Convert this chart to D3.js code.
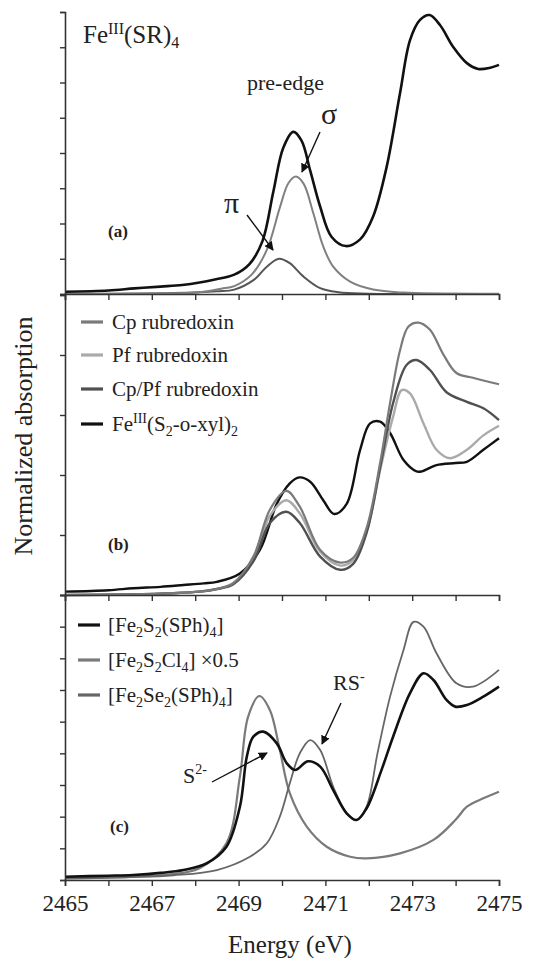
<!DOCTYPE html>
<html>
<head>
<meta charset="utf-8">
<script src="https://cdn.jsdelivr.net/npm/d3@7"></script>
<style>
  body { margin: 0; background: #fff; }
  svg text, svg tspan { font-family: "Liberation Serif", "Tinos", "DejaVu Serif", "Noto Serif", serif !important; fill: #222; }
</style>
</head>
<body>
<script>
// Energy axis ticks (eV)
const energyTicks = [2465, 2466, 2467, 2468, 2469, 2470, 2471, 2472, 2473, 2474, 2475];
const energyLabels = [2465, 2467, 2469, 2471, 2473, 2475];

// Panel (a): Fe(III)(SR)4, total and pre-edge components
const feSR4 = [[2465,0.013],[2466,0.02],[2466.6,0.032],[2467.2,0.042],[2467.7,0.051],[2468.1,0.065],[2468.4,0.08],[2468.9,0.11],[2469.25,0.17],[2469.55,0.3],[2469.8,0.58],[2470.03,0.83],[2470.26,0.92],[2470.45,0.87],[2470.65,0.7],[2470.88,0.495],[2471.14,0.325],[2471.47,0.272],[2471.8,0.31],[2472.1,0.44],[2472.41,0.72],[2472.72,1.14],[2472.95,1.44],[2473.18,1.555],[2473.4,1.583],[2473.64,1.526],[2473.95,1.4],[2474.26,1.31],[2474.52,1.277],[2474.8,1.284],[2475,1.3]];
const sigmaPeak = [[2465,0],[2467,0.003],[2468.1,0.01],[2468.6,0.03],[2468.9,0.045],[2469.3,0.11],[2469.65,0.25],[2469.95,0.49],[2470.15,0.63],[2470.32,0.666],[2470.5,0.625],[2470.72,0.46],[2470.95,0.27],[2471.18,0.155],[2471.57,0.07],[2472.1,0.025],[2472.8,0.008],[2475,0.002]];
const piPeak = [[2465,0],[2467.5,0.005],[2468.5,0.015],[2468.9,0.025],[2469.35,0.08],[2469.65,0.155],[2469.93,0.2],[2470.18,0.175],[2470.49,0.1],[2470.88,0.033],[2471.3,0.01],[2472,0.002],[2475,0]];

// Panel (b): rubredoxins and model complex
const cpRd = [[2465,0],[2466.5,0.005],[2467.5,0.015],[2468.1,0.028],[2468.5,0.05],[2468.88,0.1],[2469.34,0.32],[2469.72,0.71],[2470.1,0.867],[2470.41,0.736],[2470.88,0.375],[2471.34,0.27],[2471.64,0.31],[2471.95,0.56],[2472.26,1.1],[2472.49,1.6],[2472.72,2.04],[2472.91,2.236],[2473.14,2.27],[2473.41,2.21],[2473.71,2.01],[2474.02,1.85],[2474.4,1.81],[2475,1.756]];
const pfRd = [[2465,0],[2466.5,0.005],[2467.5,0.015],[2468.1,0.028],[2468.5,0.05],[2468.88,0.095],[2469.34,0.3],[2469.72,0.66],[2470.1,0.79],[2470.41,0.68],[2470.88,0.36],[2471.34,0.245],[2471.64,0.29],[2471.95,0.53],[2472.26,1.04],[2472.56,1.486],[2472.76,1.708],[2472.95,1.68],[2473.26,1.43],[2473.56,1.21],[2473.87,1.14],[2474.26,1.21],[2474.64,1.33],[2475,1.41]];
const cpPfRd = [[2465,0],[2466.5,0.005],[2467.5,0.015],[2468.1,0.028],[2468.5,0.05],[2468.88,0.09],[2469.34,0.28],[2469.72,0.6],[2470.1,0.694],[2470.41,0.6],[2470.88,0.32],[2471.34,0.21],[2471.64,0.26],[2471.95,0.52],[2472.26,1.06],[2472.56,1.6],[2472.87,1.917],[2473.1,1.958],[2473.41,1.875],[2473.79,1.69],[2474.26,1.61],[2474.64,1.556],[2475,1.458]];
const feXyl = [[2465,0.028],[2466,0.04],[2466.57,0.056],[2467.2,0.068],[2467.73,0.083],[2468.2,0.097],[2468.5,0.11],[2469.03,0.18],[2469.49,0.375],[2469.88,0.76],[2470.18,0.93],[2470.4,0.98],[2470.65,0.944],[2470.95,0.79],[2471.2,0.675],[2471.49,0.76],[2471.8,1.21],[2472.03,1.43],[2472.26,1.444],[2472.49,1.35],[2472.8,1.125],[2473.1,1.03],[2473.22,1.03],[2473.56,1.083],[2474,1.1],[2474.26,1.11],[2474.64,1.21],[2475,1.306]];

// Panel (c): binuclear Fe2X2 complexes
const fe2s2SPh = [[2465,0.021],[2466,0.027],[2466.57,0.032],[2467.2,0.045],[2467.73,0.063],[2468.26,0.105],[2468.72,0.21],[2469.03,0.463],[2469.19,0.78],[2469.34,0.905],[2469.57,0.937],[2469.88,0.863],[2470.11,0.737],[2470.3,0.695],[2470.6,0.75],[2470.88,0.716],[2471.18,0.568],[2471.49,0.421],[2471.72,0.379],[2471.95,0.453],[2472.3,0.7],[2472.56,0.905],[2472.95,1.18],[2473.26,1.306],[2473.49,1.263],[2473.79,1.137],[2473.99,1.095],[2474.26,1.105],[2474.64,1.158],[2475,1.221]];
const fe2s2Cl = [[2465,0.01],[2466.5,0.02],[2467.3,0.032],[2468.1,0.074],[2468.72,0.232],[2469.03,0.653],[2469.22,1.032],[2469.48,1.162],[2469.72,1.074],[2469.95,0.821],[2470.18,0.548],[2470.57,0.337],[2471.03,0.21],[2471.57,0.147],[2471.95,0.137],[2472.72,0.168],[2473.49,0.253],[2474,0.38],[2474.26,0.463],[2474.64,0.516],[2475,0.558]];
const fe2se2SPh = [[2465,0.01],[2466.5,0.018],[2467.5,0.03],[2468.5,0.063],[2469.26,0.147],[2469.65,0.232],[2469.95,0.4],[2470.18,0.611],[2470.41,0.8],[2470.65,0.884],[2470.88,0.821],[2471.18,0.589],[2471.49,0.421],[2471.72,0.379],[2471.95,0.463],[2472.2,0.8],[2472.49,1.158],[2472.8,1.453],[2473.03,1.63],[2473.26,1.6],[2473.56,1.432],[2474.02,1.242],[2474.4,1.221],[2475,1.327]];

// y tick values per panel (unlabelled in the figure)
const ticksA = [0, 0.2, 0.4, 0.6, 0.8, 1.0, 1.2, 1.4, 1.6];
const ticksB = [0, 0.5, 1.0, 1.5, 2.0, 2.5];
const ticksC = [0, 0.2, 0.4, 0.6, 0.8, 1.0, 1.2, 1.4, 1.6, 1.8];

const serif = "'Liberation Serif', Tinos, 'DejaVu Serif', 'Noto Serif', serif";
const width = 545, height = 958;
const svg = d3.select("body").append("svg").attr("width", width).attr("height", height)
  .attr("font-family", serif);

const defs = svg.append("defs");
defs.append("marker").attr("id", "arrow")
  .attr("viewBox", "0 0 10 10").attr("refX", 9).attr("refY", 5)
  .attr("markerWidth", 9).attr("markerHeight", 9).attr("markerUnits", "userSpaceOnUse")
  .attr("orient", "auto")
  .append("path").attr("d", "M0,0 L10,5 L0,10 z").attr("fill", "#111");

const x = d3.scaleLinear().domain([2465, 2475]).range([65, 499]);

const panels = [
  {top: 12, bottom: 294, domain: [0, 1.6], ticks: ticksA, series: [
    {data: piPeak, color: "#555", w: 2},
    {data: sigmaPeak, color: "#808080", w: 2},
    {data: feSR4, color: "#111", w: 2.6}
  ]},
  {top: 295, bottom: 595, domain: [0, 2.5], ticks: ticksB, series: [
    {data: feXyl, color: "#111", w: 2.4},
    {data: pfRd, color: "#aaa", w: 2.4},
    {data: cpPfRd, color: "#505050", w: 2.4},
    {data: cpRd, color: "#7a7a7a", w: 2.2}
  ]},
  {top: 595, bottom: 880, domain: [0, 1.8], ticks: ticksC, series: [
    {data: fe2s2Cl, color: "#7a7a7a", w: 2.2},
    {data: fe2se2SPh, color: "#666", w: 1.8},
    {data: fe2s2SPh, color: "#111", w: 2.6}
  ]}
];

panels.forEach((p, i) => {
  const y = d3.scaleLinear().domain(p.domain).range([p.bottom, p.top]);
  const line = d3.line().x(d => x(d[0])).y(d => y(d[1])).curve(d3.curveCatmullRom.alpha(0.5));

  p.series.forEach(s => {
    svg.append("path").datum(s.data)
      .attr("d", line).attr("fill", "none")
      .attr("stroke", s.color).attr("stroke-width", s.w)
      .attr("stroke-linejoin", "round");
  });

  const yAxis = d3.axisLeft(y).tickValues(p.ticks).tickSize(5).tickFormat("");
  svg.append("g").attr("transform", "translate(65,0)").call(yAxis);

  const last = i === panels.length - 1;
  const xAxis = d3.axisBottom(x).tickValues(energyTicks).tickSize(6)
    .tickFormat(d => last && energyLabels.includes(d) ? d : "");
  svg.append("g").attr("transform", "translate(0," + p.bottom + ")").call(xAxis);
});

svg.selectAll("g").attr("font-family", serif);
svg.selectAll(".domain").attr("stroke", "#333").attr("stroke-width", 1.6);
svg.selectAll(".tick line").attr("stroke", "#333").attr("stroke-width", 1.4);
svg.selectAll(".tick text").attr("font-size", 23).attr("fill", "#222").attr("dy", "0.95em");

// Axis titles
svg.append("text").attr("x", 290).attr("y", 953).attr("text-anchor", "middle")
  .attr("font-size", 25).text("Energy (eV)");
svg.append("text").attr("transform", "translate(32,436) rotate(-90)")
  .attr("text-anchor", "middle").attr("font-size", 26).text("Normalized absorption");

// Panel (a) annotations
const t1 = svg.append("text").attr("x", 83).attr("y", 43).attr("font-size", 25);
t1.append("tspan").text("Fe");
t1.append("tspan").attr("font-size", 16).attr("dy", -9).text("III");
t1.append("tspan").attr("dy", 9).text("(SR)");
t1.append("tspan").attr("font-size", 16).attr("dy", 5).text("4");

svg.append("text").attr("x", 247).attr("y", 90).attr("font-size", 22).text("pre-edge");
svg.append("text").attr("x", 321).attr("y", 124).attr("font-size", 30).attr("fill", "#777").text("σ");
svg.append("text").attr("x", 224).attr("y", 213).attr("font-size", 30).attr("fill", "#333").text("π");
svg.append("text").attr("x", 108).attr("y", 237).attr("font-size", 17).attr("font-weight", "bold").text("(a)");

const arrows = [
  [320, 132, 302, 172],
  [247, 215, 273, 250],
  [341, 703, 322, 744],
  [212, 782, 267, 753]
];
arrows.forEach(a => {
  svg.append("line").attr("x1", a[0]).attr("y1", a[1]).attr("x2", a[2]).attr("y2", a[3])
    .attr("stroke", "#111").attr("stroke-width", 1.4).attr("marker-end", "url(#arrow)");
});

// Panel (b) legend
const legendB = [
  {color: "#7a7a7a", parts: [["Cp rubredoxin"]]},
  {color: "#aaa", parts: [["Pf rubredoxin"]]},
  {color: "#505050", parts: [["Cp/Pf rubredoxin"]]},
  {color: "#111", parts: [["Fe"], ["III", "sup"], ["(S"], ["2", "sub"], ["-o-xyl)"], ["2", "sub"]]}
];
const legendBY = [322, 355, 389, 424];

// Panel (c) legend
const legendC = [
  {color: "#111", parts: [["[Fe"], ["2", "sub"], ["S"], ["2", "sub"], ["(SPh)"], ["4", "sub"], ["]"]]},
  {color: "#7a7a7a", parts: [["[Fe"], ["2", "sub"], ["S"], ["2", "sub"], ["Cl"], ["4", "sub"], ["] ×0.5"]]},
  {color: "#666", parts: [["[Fe"], ["2", "sub"], ["Se"], ["2", "sub"], ["(SPh)"], ["4", "sub"], ["]"]]}
];
const legendCY = [625, 660, 695];

function drawLegend(items, ys, x0, xText) {
  items.forEach((it, k) => {
    svg.append("line").attr("x1", x0).attr("x2", x0 + 22).attr("y1", ys[k]).attr("y2", ys[k])
      .attr("stroke", it.color).attr("stroke-width", 3.2);
    const t = svg.append("text").attr("x", xText).attr("y", ys[k] + 7).attr("font-size", 21);
    let shift = 0;
    it.parts.forEach(pt => {
      let target = 0;
      if (pt[1] === "sup") target = -8;
      if (pt[1] === "sub") target = 5;
      const ts = t.append("tspan").attr("dy", target - shift).text(pt[0]);
      if (pt[1]) ts.attr("font-size", 14);
      shift = target;
    });
  });
}
drawLegend(legendB, legendBY, 81, 112);
drawLegend(legendC, legendCY, 78, 108);

svg.append("text").attr("x", 108).attr("y", 550).attr("font-size", 17).attr("font-weight", "bold").text("(b)");

// Panel (c) annotations
const rs = svg.append("text").attr("x", 333).attr("y", 690).attr("font-size", 22);
rs.append("tspan").text("RS");
rs.append("tspan").attr("font-size", 14).attr("dy", -9).text("-");
const s2 = svg.append("text").attr("x", 183).attr("y", 783).attr("font-size", 22);
s2.append("tspan").text("S");
s2.append("tspan").attr("font-size", 14).attr("dy", -9).text("2-");
svg.append("text").attr("x", 110).attr("y", 832).attr("font-size", 17).attr("font-weight", "bold").text("(c)");
</script>
</body>
</html>
